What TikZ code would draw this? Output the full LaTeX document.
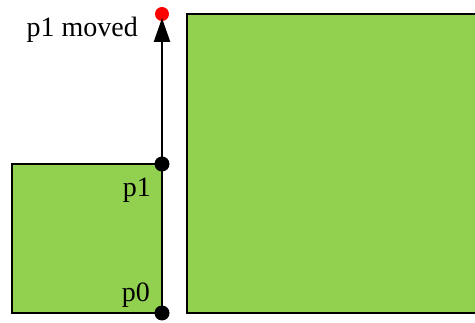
\documentclass[tikz,border=0pt]{standalone}
\usepackage{fontspec}
\setmainfont{Liberation Serif}
\usetikzlibrary{arrows.meta}
\definecolor{lgreen}{HTML}{92D050}
\begin{document}
\begin{tikzpicture}[x=1pt,y=-1pt,
  box/.style={draw=black,line width=2.5pt,fill=lgreen},
  dot/.style={circle,fill=black,inner sep=0pt,minimum size=15pt},
  reddot/.style={circle,fill=red,inner sep=0pt,minimum size=14pt},
  lbl/.style={inner sep=0pt,font=\fontsize{28}{30}\selectfont},
  arr/.style={line width=2.5pt,-{Triangle[length=24pt,width=16pt]}}]
\useasboundingbox (0,0) rectangle (475,323);
\fill[white] (0,0) rectangle (475,323);
\draw[box] (12,164) rectangle (162,313);
\draw[box] (187,14) rectangle (480,313);
\node[dot] (p0) at (162,313) {};
\node[dot] (p1) at (162,164) {};
\node[reddot] (pm) at (162,14) {};
\coordinate (tip) at (162,18);
\draw[arr] (p1.center) -- (tip);
\node[lbl,anchor=base east] (lm) at (138,37) {p1 moved};
\node[lbl,anchor=base east] (l1) at (151,197) {p1};
\node[lbl,anchor=base east] (l0) at (150,302) {p0};
\end{tikzpicture}
\end{document}
